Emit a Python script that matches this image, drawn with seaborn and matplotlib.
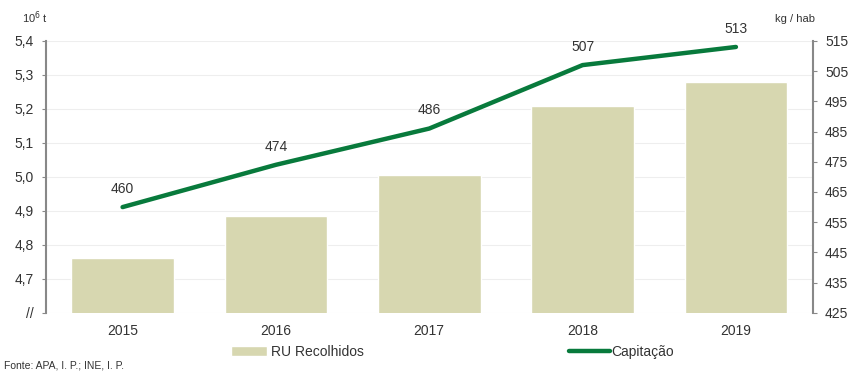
import matplotlib
matplotlib.use("Agg")
import matplotlib.pyplot as plt
import seaborn as sns
import pandas as pd

# Data
years = ["2015", "2016", "2017", "2018", "2019"]
ru_recolhidos = [4.76, 4.885, 5.005, 5.21, 5.28]   # 10^6 t
capitacao = [460, 474, 486, 507, 513]              # kg / hab

left_ticks = [4.6, 4.7, 4.8, 4.9, 5.0, 5.1, 5.2, 5.3, 5.4]
left_labels = ["//", "4,7", "4,8", "4,9", "5,0", "5,1", "5,2", "5,3", "5,4"]
right_ticks = [425, 435, 445, 455, 465, 475, 485, 495, 505, 515]

bar_color = "#d7d7b0"
line_color = "#087a3c"
text_color = "#333333"

sns.set_style("white")
plt.rcParams["font.family"] = ["Liberation Sans", "DejaVu Sans"]

df = pd.DataFrame({"ano": years, "ru": ru_recolhidos, "cap": capitacao})

fig = plt.figure(figsize=(8.5, 3.72), dpi=100)
ax = fig.add_axes([0.054, 0.159, 0.902, 0.731])

sns.barplot(data=df, x="ano", y="ru", color=bar_color, width=0.67,
            saturation=1, ax=ax, label="RU Recolhidos", zorder=2)
ax.set_ylim(4.6, 5.4)
ax.set_yticks(left_ticks)
ax.set_yticklabels(left_labels, fontsize=10, color=text_color)
ax.set_xlabel("")
ax.set_ylabel("")
ax.tick_params(axis="x", length=0, labelsize=10, colors=text_color, pad=8)
ax.tick_params(axis="y", length=3, color="#888888", direction="out", pad=6)
ax.grid(axis="y", color="#eeeeee", linewidth=0.8, zorder=0)
ax.set_axisbelow(True)
for s in ["top", "right", "bottom"]:
    ax.spines[s].set_visible(False)
ax.spines["left"].set_color("#888888")
ax.spines["left"].set_linewidth(1.5)

ax2 = ax.twinx()
sns.lineplot(data=df, x="ano", y="cap", color=line_color, linewidth=3.2,
             ax=ax2, label="Capitação", zorder=3)
ax2.set_ylim(425, 515)
ax2.set_yticks(right_ticks)
ax2.tick_params(axis="y", length=3, color="#888888", labelsize=10,
                colors=text_color, pad=6)
ax2.set_ylabel("")
for s in ["top", "left", "bottom"]:
    ax2.spines[s].set_visible(False)
ax2.spines["right"].set_color("#888888")
ax2.spines["right"].set_linewidth(1.5)

ax.set_xlim(-0.5, len(years) - 0.5)

for i, v in enumerate(capitacao):
    ax2.annotate(str(v), (i, v), xytext=(0, 8), textcoords="offset points",
                 ha="center", va="bottom", fontsize=10, color=text_color)

# Units
fig.text(0.041, 0.94, "10$^6$ t", fontsize=8, color=text_color, ha="center")
fig.text(0.935, 0.94, "kg / hab", fontsize=8, color=text_color, ha="center")

# Legend below the chart
h1, l1 = ax.get_legend_handles_labels()
h2, l2 = ax2.get_legend_handles_labels()
ax.get_legend().remove()
ax2.get_legend().remove()
fig.legend([h1[0]], [l1[0]], loc="center left", bbox_to_anchor=(0.257, 0.055),
           frameon=False, fontsize=10, handlelength=2.6, handletextpad=0.3,
           labelcolor=text_color)
fig.legend([h2[0]], [l2[0]], loc="center left", bbox_to_anchor=(0.655, 0.055),
           frameon=False, fontsize=10, handlelength=2.9, handletextpad=0.1,
           labelcolor=text_color)

fig.text(0.005, 0.01, "Fonte: APA, I. P.; INE, I. P.", fontsize=7.5,
         color=text_color)

fig.savefig("out.png", dpi=100)
